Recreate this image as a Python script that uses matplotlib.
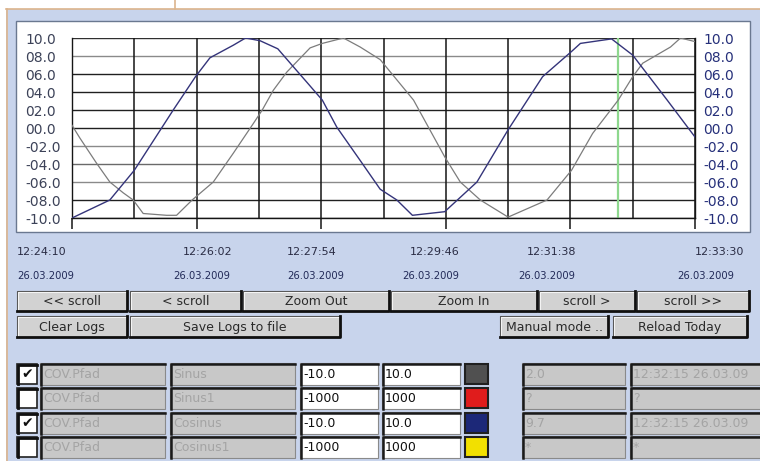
import matplotlib
matplotlib.use("Agg")
import matplotlib.pyplot as plt
from matplotlib.patches import Rectangle

plt.rcParams['font.family'] = ['DejaVu Sans']

# trace values, time in seconds after 12:24:10
cos_t = [0, 34, 56, 91, 111, 124, 145, 156, 169, 185, 199, 211, 225, 238, 259,
         277, 292, 306, 335, 364, 392, 423, 449, 457, 485, 504, 535, 560]
cos_v = [-10, -8, -4.7, 2, 5.7, 7.8, 9.2, 10, 9.7, 8.8, 6.8, 5.1, 3.1, 0.1, -3.6,
         -6.8, -8, -9.7, -9.3, -6, -0.2, 5.7, 8.5, 9.4, 9.9, 8.1, 3.1, -1]
sin_t = [0, 7, 22, 34, 46, 55, 64, 85, 94, 108, 127, 145, 163, 171, 181, 193,
         214, 225, 244, 259, 277, 307, 335, 349, 367, 392, 427, 449, 468, 491,
         504, 513, 538, 547, 560]
sin_v = [0.3, -1.1, -3.9, -6, -7.2, -8, -9.5, -9.7, -9.7, -8, -6, -2.8, 0.5, 2,
         4.2, 6.2, 8.9, 9.4, 10, 9, 7.6, 3.1, -3.2, -6, -8, -9.9, -8, -4.7, -0.6,
         3.1, 5.7, 7.2, 9, 10, 9.6]
cursor_t = 491

y_ticks = [10, 8, 6, 4, 2, 0, -2, -4, -6, -8, -10]
y_labels = ['10.0', '08.0', '06.0', '04.0', '02.0', '00.0',
            '-02.0', '-04.0', '-06.0', '-08.0', '-10.0']
grid_t = list(range(0, 561, 56))
major_t = list(range(0, 561, 112))
time_labels = ['12:24:10', '12:26:02', '12:27:54', '12:29:46', '12:31:38', '12:33:30']
date_labels = ['26.03.2009'] * 6

buttons_row1 = ['<< scroll', '< scroll', 'Zoom Out', 'Zoom In', 'scroll >', 'scroll >>']
buttons_row2 = ['Clear Logs', 'Save Logs to file', 'Manual mode ..', 'Reload Today']

checked = [True, False, True, False]
paths = ['COV.Pfad'] * 4
names = ['Sinus', 'Sinus1', 'Cosinus', 'Cosinus1']
mins = ['-10.0', '-1000', '-10.0', '-1000']
maxs = ['10.0', '1000', '10.0', '1000']
swatches = ['#505050', '#e01c1c', '#1c2878', '#f2e000']
values = ['2.0', '?', '9.7', '*']
stamps = ['12:32:15 26.03.09', '?', '12:32:15 26.03.09', '*']

# pixel layout
W, H = 760, 461
panel = '#c8d4ec'
left, right, top, bottom = 72, 695, 38, 218
time_x = [17, 183, 287, 410, 527, 695]
date_x = [17, 173, 287, 402, 518, 677]
row1_x = [(17, 127), (130, 241), (243, 389), (391, 537), (539, 635), (637, 749)]
row2_x = [(17, 127), (130, 340), (500, 608), (613, 747)]
row_y = [363, 387, 412, 436]
row_h = 22

fig = plt.figure(figsize=(W / 100, H / 100), dpi=100)
bg = fig.add_axes([0, 0, 1, 1])
bg.set_xlim(0, W)
bg.set_ylim(H, 0)
bg.axis('off')

bg.add_patch(Rectangle((0, 0), W, H, facecolor='white', edgecolor='none'))
bg.add_patch(Rectangle((6, 9), W - 6, H - 9, facecolor=panel, edgecolor='none'))
bg.plot([6, W], [9.5, 9.5], color='#dcb48c', lw=1.2)
bg.plot([6.5, 6.5], [9, H], color='#dcb48c', lw=1.2)
bg.plot([175, 175], [0, 9], color='#dcb48c', lw=1.2)
bg.add_patch(Rectangle((16, 21), 734, 211, facecolor='white', edgecolor='#6a7890', lw=1))

for lbl, x in zip(time_labels, time_x):
    bg.text(x, 252, lbl, fontsize=8, color='#2a2c44', va='center', ha='left')
for lbl, x in zip(date_labels, date_x):
    bg.text(x, 276, lbl, fontsize=7.2, color='#222a58', va='center', ha='left')


def button(x0, x1, y0, y1, label):
    bg.add_patch(Rectangle((x0, y0), x1 - x0, y1 - y0, facecolor='#d2d2d2',
                           edgecolor='#505050', lw=0.8))
    bg.plot([x0 + 1, x0 + 1, x1 - 1], [y1 - 1, y0 + 1, y0 + 1], color='#f4f4f4', lw=0.8)
    bg.plot([x0, x1, x1], [y1, y1, y0], color='#101010', lw=2)
    bg.text((x0 + x1) / 2, (y0 + y1) / 2 + 0.5, label, fontsize=9, color='#2a2a2a',
            ha='center', va='center')


for (x0, x1), lbl in zip(row1_x, buttons_row1):
    button(x0, x1, 291, 311, lbl)
for (x0, x1), lbl in zip(row2_x, buttons_row2):
    button(x0, x1, 316, 337, lbl)


def field(x0, x1, y0, text, fill, tcolor):
    y1 = y0 + row_h
    bg.add_patch(Rectangle((x0, y0), x1 - x0, row_h, facecolor=fill,
                           edgecolor='#8a8a8a', lw=0.8))
    bg.plot([x0 + 0.5, x0 + 0.5, x1], [y1, y0 + 0.5, y0 + 0.5], color='#1a1a1a', lw=1.8)
    bg.text(x0 + 3, y0 + row_h / 2 + 0.5, text, fontsize=9, color=tcolor,
            ha='left', va='center')


for i, y0 in enumerate(row_y):
    bg.add_patch(Rectangle((17, y0 + 1), 20, 20, facecolor='white',
                           edgecolor='#202020', lw=1.2))
    bg.plot([17.5, 17.5, 37], [y0 + 21, y0 + 1.5, y0 + 1.5], color='#101010', lw=2)
    if checked[i]:
        bg.text(27, y0 + 11.5, '\u2714', fontsize=10, color='#101010',
                ha='center', va='center')
    field(40, 165, y0, paths[i], '#c8c8c8', '#a4a4a4')
    field(170, 295, y0, names[i], '#c8c8c8', '#a4a4a4')
    field(300, 378, y0, mins[i], 'white', '#101010')
    field(382, 460, y0, maxs[i], 'white', '#101010')
    bg.add_patch(Rectangle((465, y0 + 1), 23, 20, facecolor=swatches[i],
                           edgecolor='#202020', lw=1.5))
    field(522, 625, y0, values[i], '#c8c8c8', '#a4a4a4')
    field(630, 762, y0, stamps[i], '#c8c8c8', '#a4a4a4')

# chart
ax = fig.add_axes([left / W, (H - bottom) / H, (right - left) / W, (bottom - top) / H])
ax.set_facecolor('white')
ax.set_xlim(0, 560)
ax.set_ylim(-10, 10)

grid_colors = ['#303030', '#8a8a8a', '#202020', '#202020', '#202020', '#202020',
               '#8a8a8a', '#6a6a6a', '#8a8a8a', '#202020', '#202020']
for v, c in zip(y_ticks, grid_colors):
    ax.axhline(v, color=c, lw=1, zorder=1)
for t in grid_t:
    ax.axvline(t, color='#151515', lw=1.1, zorder=1)
ax.axvline(cursor_t, color='#8ed88e', lw=1.6, zorder=2)

ax.plot(sin_t, sin_v, color='#7c7c7c', lw=0.9, zorder=3)
ax.plot(cos_t, cos_v, color='#34347a', lw=1.0, zorder=4)

for s in ax.spines.values():
    s.set_color('#151515')
    s.set_linewidth(1)
ax.spines['top'].set_visible(False)

ax.set_xticks(major_t)
ax.set_xticklabels([])
ax.tick_params(axis='x', direction='out', length=7.9, width=1.1, color='#151515')

ax.set_yticks(y_ticks)
ax.set_yticklabels(y_labels)
ax.tick_params(axis='y', length=0, pad=33.8, labelsize=10, labelcolor='#3c4258')
for lab in ax.get_yticklabels():
    lab.set_horizontalalignment('left')

ax2 = ax.twinx()
ax2.set_ylim(-10, 10)
ax2.set_yticks(y_ticks)
ax2.set_yticklabels(y_labels)
ax2.tick_params(axis='y', length=0, pad=5.8, labelsize=10, labelcolor='#26307a')
for s in ax2.spines.values():
    s.set_visible(False)

fig.savefig('out.png', dpi=100)
